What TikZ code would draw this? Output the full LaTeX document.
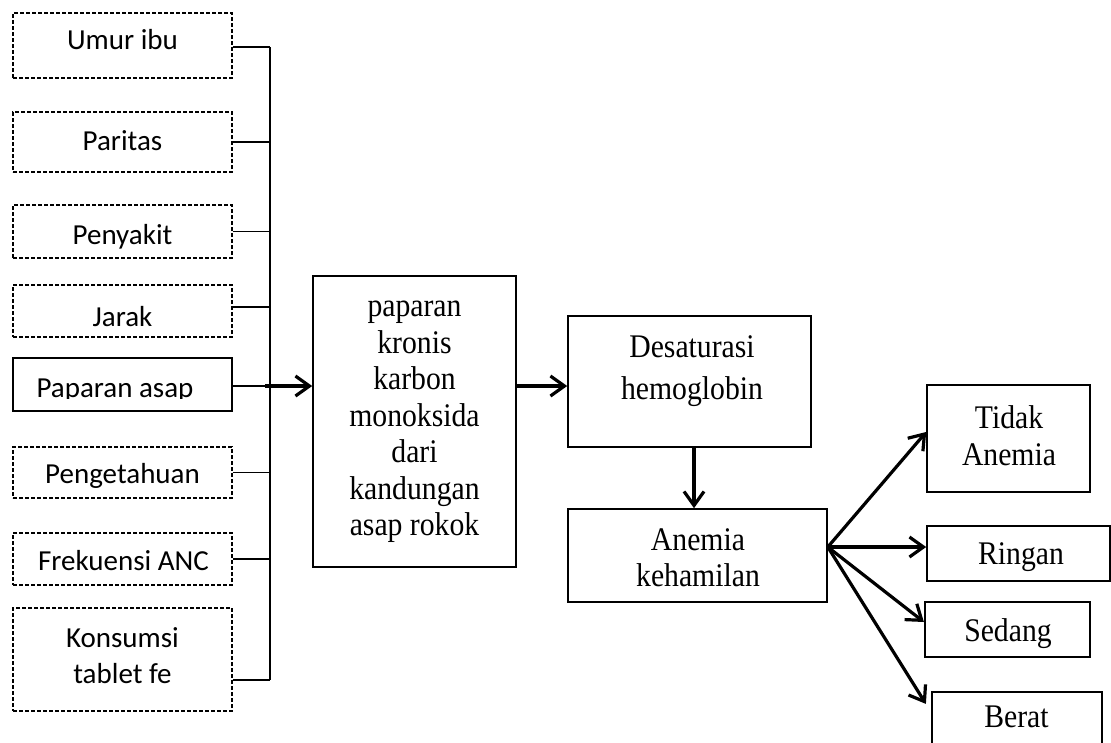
\documentclass[tikz,border=0pt]{standalone}
\usepackage{fontspec}
\usetikzlibrary{arrows.meta}
\newfontfamily\calfont{Carlito}
\newfontfamily\tnrfont[FakeStretch=0.9]{Liberation Serif}
\tikzset{
  dbox/.style={draw, dash pattern=on 4pt off 2pt, line width=1.2pt, minimum width=219pt, inner sep=0pt},
  sbox/.style={draw, line width=1.6pt, inner sep=0pt},
  tbox/.style={draw, line width=2.2pt, inner sep=0pt},
  ltext/.style={font=\calfont\fontsize{29}{36}\selectfont, align=center, inner sep=0pt},
  rtext/.style={font=\tnrfont\fontsize{33}{36.5}\selectfont, align=center, inner sep=0pt},
  conn/.style={line width=1.5pt},
  arr/.style={line width=3.2pt, -{Straight Barb[length=14pt,width=20pt]}}
}
\begin{document}
\begin{tikzpicture}[x=1pt,y=-1pt]
\useasboundingbox (0,0) rectangle (1111,742);
\clip (0,0) rectangle (1111,742);
\fill[white] (0,0) rectangle (1111,742);
% left boxes
\node[dbox, minimum height=65pt] (umur) at (122.5,45.5) {};
\node[dbox, minimum height=60pt] (paritas) at (122.5,142) {};
\node[dbox, minimum height=53pt] (penyakit) at (122.5,231.5) {};
\node[dbox, minimum height=52pt] (jarak) at (122.5,311) {};
\node[sbox, minimum width=219pt, minimum height=53pt] (pa) at (122.5,384.5) {};
\node[dbox, minimum height=51pt] (peng) at (122.5,472.5) {};
\node[dbox, minimum height=52pt] (frek) at (122.5,559) {};
\node[dbox, minimum height=103pt] (kons) at (122.5,659.5) {};
% left texts
\node[ltext] (umur-t) at (122.5,40) {Umur ibu};
\node[ltext] (paritas-t) at (122.5,140.5) {Paritas};
\node[ltext] (penyakit-t) at (122.5,236.5) {Penyakit};
\node[ltext] (jarak-t) at (122.5,317) {Jarak};
\begin{scope}
\clip (13,358) rectangle (232,398);
\node[ltext] (pa-t) at (115,390.5) {Paparan asap};
\end{scope}
\node[ltext] (peng-t) at (122.5,475.5) {Pengetahuan};
\node[ltext] (frek-t) at (123.5,560.5) {Frekuensi ANC};
\node[ltext] (kons-t) at (122.5,655.5) {Konsumsi\\tablet fe};
% bus
\coordinate (bt) at (270,47);
\coordinate (bb) at (270,680);
\coordinate (pj) at (265,386);
\draw[conn] (bt) -- (bb);
\draw[conn] (umur.east |- bt) -- (bt);
\draw[conn] (paritas.east) -- (paritas.east -| bt);
\draw[conn] (penyakit.east) -- (penyakit.east -| bt);
\path ([yshift=4pt]jarak.east) coordinate (jr);
\draw[conn] (jr) -- (jr -| bt);
\draw[conn] (peng.east) -- (peng.east -| bt);
\draw[conn] (frek.east) -- (frek.east -| bt);
\draw[conn] (kons.east |- bb) -- (bb);
% central
\node[sbox, minimum width=203pt, minimum height=291pt] (ctr) at (414.5,421.5) {};
\node[rtext] (ctr-t) at (414.5,422) {paparan\\kronis\\karbon\\monoksida\\dari\\kandungan\\asap rokok};
\draw[conn] (pa.east |- pj) -- (pj);
\draw[arr] (pj) -- (pj -| ctr.west);
% desaturasi
\node[sbox, minimum width=243pt, minimum height=131pt] (desat) at (689.5,381.5) {};
\node[rtext, font=\tnrfont\fontsize{33}{42}\selectfont] (desat-t) at (692,371.5) {Desaturasi\\hemoglobin};
\draw[arr] (ctr.east |- pj) -- (desat.west |- pj);
% anemia kehamilan
\node[sbox, minimum width=259pt, minimum height=93pt] (anemia) at (697.5,555.5) {};
\node[rtext] (anemia-t) at (698,557.5) {Anemia\\kehamilan};
\path ([xshift=4.5pt]desat.south) coordinate (dd);
\draw[arr] (dd) -- (dd |- anemia.north);
% outcomes
\node[sbox, minimum width=163pt, minimum height=107pt] (tidak) at (1008.5,438.5) {};
\node[rtext] (tidak-t) at (1009,435.5) {Tidak\\Anemia};
\node[sbox, minimum width=183pt, minimum height=55pt] (ringan) at (1018.5,553.5) {};
\node[rtext] (ringan-t) at (1021,557.5) {Ringan};
\node[tbox, minimum width=165pt, minimum height=55pt] (sedang) at (1007.5,629.5) {};
\node[rtext] (sedang-t) at (1008,634) {Sedang};
\node[tbox, minimum width=170pt, minimum height=70pt] (berat) at (1017,727) {};
\node[rtext] (berat-t) at (1016.5,717) {Berat};
\path ([yshift=8.5pt]anemia.east) coordinate (fan);
\draw[arr] (fan) -- ([yshift=6.5pt]tidak.west);
\draw[arr] (fan) -- (fan -| ringan.west);
\draw[arr] (fan) -- ([yshift=7.5pt]sedang.west);
\draw[arr] (fan) -- ([xshift=-5pt,yshift=-13pt]berat.north west);
\end{tikzpicture}
\end{document}
